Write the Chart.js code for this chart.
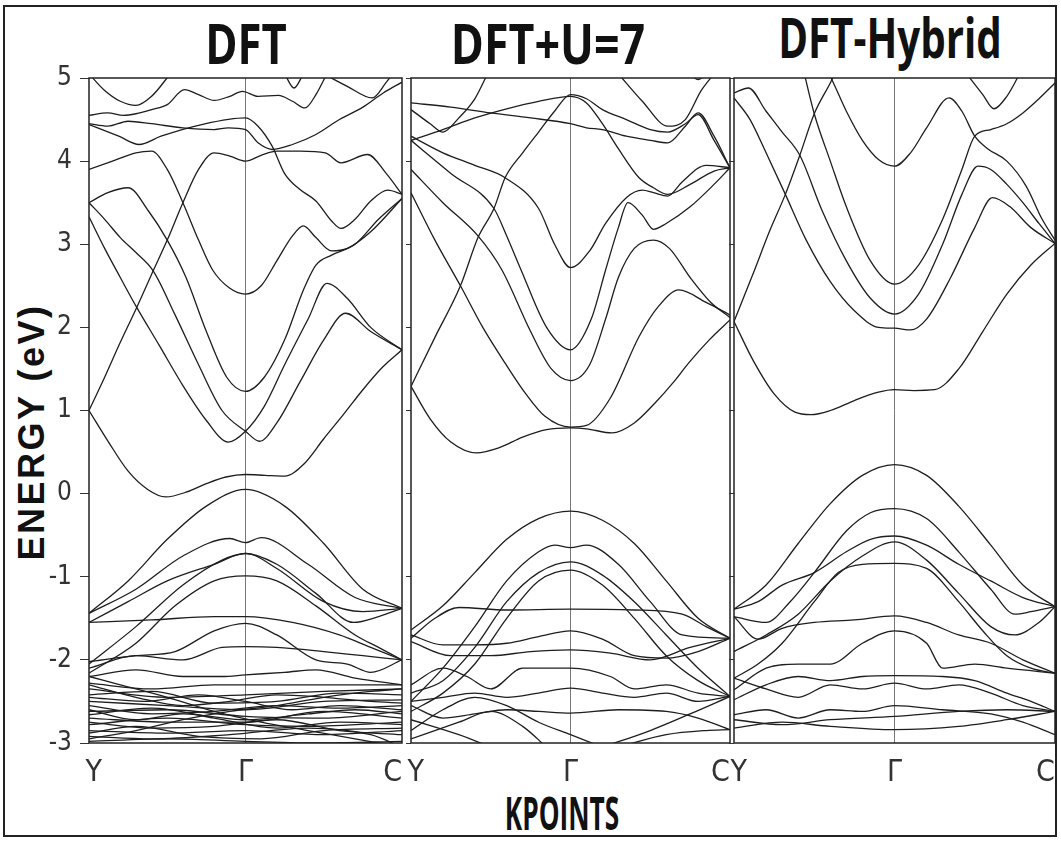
<!DOCTYPE html>
<html>
<head>
<meta charset="utf-8">
<script src="https://cdn.jsdelivr.net/npm/chart.js@4.4.1/dist/chart.umd.min.js"></script>
<style>
    body { margin: 0; background: #fff; width: 1061px; height: 841px; position: relative; overflow: hidden; }
    #frame { position: absolute; left: 3px; top: 5px; width: 1050px; height: 828px; border: 2px solid #222; }
    canvas { position: absolute; }
    .title { position: absolute; font-family: "Open Sans", sans-serif; font-weight: 700; color: #111; white-space: nowrap; line-height: 1; }
</style>
</head>
<body>
<div id="frame"></div>
<div class="title" style="left:246px;top:14px;font-size:56px;transform:translateX(-50%) scaleX(0.78);">DFT</div>
<div class="title" style="left:548px;top:14px;font-size:56px;transform:translateX(-50%) scaleX(0.8);">DFT+U=7</div>
<div class="title" style="left:890px;top:8px;font-size:56px;transform:translateX(-50%) scaleX(0.72);">DFT-Hybrid</div>
<div class="title" style="left:562px;top:789px;font-size:46px;transform:translateX(-50%) scaleX(0.57);">KPOINTS</div>
<div class="title" style="left:32px;top:432px;font-family:'Liberation Sans',sans-serif;font-size:36px;letter-spacing:2.5px;transform:translate(-50%,-50%) rotate(-90deg);">ENERGY (eV)</div>
<canvas id="p1" width="370" height="743" style="left:40px;top:50px;"></canvas>
<canvas id="p2" width="330" height="743" style="left:405px;top:50px;"></canvas>
<canvas id="p3" width="333" height="743" style="left:728px;top:50px;"></canvas>
<script>
// Axis settings
const energyMin = -3;
const energyMax = 5;
const kTickPos = [0.03, 1, 1.94];
const kTickLabels = ['Y', 'Γ', 'C'];

// DFT bands: [k, energy]
const dftCond = [
    [[0,1.0],[0.125,0.62],[0.25,0.27],[0.375,0.05],[0.49,-0.04],[0.625,0.02],[0.75,0.12],[0.875,0.2],[1,0.23],[1.125,0.22],[1.25,0.21],[1.375,0.36],[1.5,0.66],[1.625,0.95],[1.75,1.25],[1.875,1.52],[2,1.73]],
    [[0,1.0],[0.1,1.4],[0.2,1.82],[0.305,2.24],[0.41,2.68],[0.5,3.05],[0.6,3.5],[0.7,3.9],[0.8,4.1],[0.9,4.06],[1,4.0],[1.1,4.07],[1.2,4.12],[1.35,4.12],[1.51,4.1],[1.61,3.98],[1.78,4.08],[1.9,3.85],[2,3.6]],
    [[0,3.33],[0.1,2.95],[0.2,2.6],[0.305,2.24],[0.45,1.78],[0.6,1.3],[0.75,0.88],[0.89,0.62],[1,0.75],[1.12,1.05],[1.25,1.55],[1.4,2.1],[1.52,2.53],[1.65,2.35],[1.8,2.0],[2,1.73]],
    [[0,3.5],[0.1,3.3],[0.2,3.08],[0.3,2.9],[0.41,2.68],[0.55,2.15],[0.7,1.55],[0.85,1.0],[1,0.75],[1.09,0.63],[1.2,0.85],[1.35,1.35],[1.5,1.85],[1.64,2.17],[1.8,1.95],[2,1.73]],
    [[0,3.5],[0.12,3.62],[0.25,3.68],[0.38,3.4],[0.5,3.05],[0.62,2.6],[0.75,1.95],[0.88,1.4],[1,1.23],[1.12,1.4],[1.25,1.85],[1.37,2.45],[1.45,2.75],[1.55,2.87],[1.7,3.0],[1.85,3.3],[2,3.55]],
    [[0,3.9],[0.15,4.0],[0.3,4.1],[0.4,4.12],[0.5,3.9],[0.6,3.5],[0.7,3.05],[0.79,2.69],[0.9,2.47],[1,2.4],[1.1,2.5],[1.2,2.8],[1.3,3.1],[1.37,3.22],[1.45,3.08],[1.55,2.92],[1.65,2.95],[1.8,3.15],[2,3.55]],
    [[0,4.44],[0.19,4.3],[0.32,4.2],[0.46,4.3],[0.72,4.44],[1,4.52],[1.08,4.42],[1.17,4.18],[1.25,3.85],[1.34,3.67],[1.45,3.52],[1.55,3.28],[1.61,3.19],[1.7,3.3],[1.8,3.52],[1.91,3.65],[2,3.6]],
    [[0,4.45],[0.12,4.42],[0.25,4.48],[0.4,4.45],[0.6,4.4],[0.8,4.38],[0.89,4.4],[1,4.38],[1.08,4.22],[1.17,4.14],[1.3,4.2],[1.45,4.32],[1.6,4.5],[1.75,4.65],[1.88,4.82],[2,4.95]],
    [[0,4.55],[0.12,4.58],[0.22,4.55],[0.3,4.57],[0.4,4.62],[0.5,4.68],[0.61,4.86],[0.7,4.8],[0.8,4.73],[0.9,4.78],[0.98,4.84],[1.08,4.78],[1.21,4.79],[1.3,4.72],[1.38,4.64],[1.45,4.8],[1.52,5.05]],
    [[0,5.05],[0.1,4.85],[0.2,4.72],[0.3,4.67],[0.4,4.78],[0.52,5.05]],
    [[1.25,5.05],[1.31,4.88],[1.37,5.05]],
    [[1.5,5.05],[1.65,4.9],[1.81,4.76],[1.9,4.95],[1.96,5.1]]
];
const dftVal = [
    [[0,-1.44],[0.25,-1.05],[0.5,-0.55],[0.75,-0.15],[1,0.05],[1.25,-0.15],[1.5,-0.6],[1.75,-1.15],[2,-1.38]],
    [[0,-1.44],[0.3,-1.15],[0.6,-0.75],[0.9,-0.54],[1,-0.59],[1.1,-0.53],[1.4,-0.85],[1.7,-1.25],[2,-1.38]],
    [[0,-2.05],[0.3,-1.6],[0.6,-1.1],[0.85,-0.8],[1,-0.72],[1.2,-0.85],[1.45,-1.2],[1.69,-1.55],[1.85,-1.48],[2,-1.38]],
    [[0,-1.55],[0.25,-1.3],[0.5,-1.05],[0.8,-0.85],[1,-0.72],[1.2,-0.9],[1.5,-1.3],[1.75,-1.42],[2,-1.38]],
    [[0,-2.16],[0.3,-1.8],[0.55,-1.35],[0.8,-1.05],[1,-0.99],[1.2,-1.05],[1.45,-1.35],[1.7,-1.7],[1.85,-1.85],[2,-2.0]],
    [[0,-1.55],[0.4,-1.52],[0.8,-1.48],[1,-1.48],[1.3,-1.55],[1.6,-1.7],[1.8,-1.85],[2,-2.0]],
    [[0,-2.02],[0.3,-1.95],[0.55,-1.9],[0.8,-1.65],[1,-1.56],[1.2,-1.7],[1.45,-2.0],[1.65,-2.05],[1.8,-2.15],[2,-2.0]],
    [[0,-2.1],[0.3,-1.95],[0.6,-2.0],[0.85,-1.85],[1,-1.84],[1.2,-1.85],[1.5,-1.9],[1.75,-1.95],[2,-2.0]],
    [[0,-2.2],[0.3,-2.12],[0.6,-2.2],[0.85,-2.2],[1,-2.18],[1.25,-2.15],[1.45,-2.12],[1.7,-2.22],[2,-2.3]],
    [[0,-2.28],[0.4,-2.35],[0.8,-2.3],[1,-2.3],[1.4,-2.3],[1.7,-2.3],[2,-2.3]],
    [[0,-2.35],[0.5,-2.45],[1,-2.42],[1.5,-2.38],[2,-2.35]],
    [[0,-2.42],[0.4,-2.38],[0.8,-2.52],[1.2,-2.5],[1.6,-2.4],[2,-2.42]],
    [[0,-2.5],[0.5,-2.55],[1,-2.6],[1.5,-2.5],[2,-2.48]],
    [[0,-2.55],[0.4,-2.65],[0.8,-2.62],[1.2,-2.55],[1.6,-2.58],[2,-2.55]],
    [[0,-2.62],[0.5,-2.6],[1,-2.68],[1.5,-2.7],[2,-2.62]],
    [[0,-2.7],[0.5,-2.75],[1,-2.75],[1.5,-2.62],[2,-2.7]],
    [[0,-2.78],[0.5,-2.7],[1,-2.78],[1.4,-2.8],[2,-2.75]],
    [[0,-2.85],[0.5,-2.88],[1,-2.85],[1.5,-2.9],[2,-2.85]],
    [[0,-2.92],[0.4,-2.95],[0.9,-2.9],[1.4,-2.82],[1.8,-2.9],[2,-3.05]],
    [[0,-2.98],[0.5,-2.95],[1,-2.98],[1.5,-3.0],[2,-2.98]],
    [[0,-2.3],[0.3,-2.45],[0.6,-2.55],[0.9,-2.5],[1.2,-2.42],[1.5,-2.45],[1.8,-2.5],[2,-2.52]],
    [[0,-2.45],[0.35,-2.5],[0.7,-2.42],[1,-2.5],[1.3,-2.6],[1.6,-2.55],[2,-2.6]],
    [[0,-2.6],[0.3,-2.72],[0.6,-2.65],[1,-2.72],[1.4,-2.65],[1.7,-2.6],[2,-2.65]],
    [[0,-2.66],[0.4,-2.58],[0.8,-2.7],[1.2,-2.82],[1.6,-2.75],[2,-2.78]],
    [[0,-2.75],[0.4,-2.82],[0.8,-2.8],[1.2,-2.72],[1.6,-2.85],[2,-2.9]],
    [[0,-2.88],[0.3,-2.8],[0.7,-2.92],[1.1,-2.95],[1.5,-2.85],[2,-2.82]],
    [[0,-2.2],[0.2,-2.3],[0.5,-2.45],[0.8,-2.62],[1.1,-2.75],[1.4,-2.85],[1.7,-2.95],[2,-3.05]],
    [[0,-2.95],[0.3,-2.85],[0.6,-2.72],[0.9,-2.62],[1.2,-2.55],[1.5,-2.45],[1.8,-2.38],[2,-2.35]]
];

// DFT+U=7 bands
const dftuCond = [
    [[0,1.29],[0.12,0.9],[0.25,0.62],[0.41,0.49],[0.55,0.55],[0.7,0.68],[0.85,0.77],[1,0.79],[1.1,0.78],[1.26,0.73],[1.4,0.85],[1.53,1.09],[1.65,1.35],[1.74,1.57],[1.87,1.85],[2,2.09]],
    [[0,1.29],[0.15,1.88],[0.31,2.5],[0.42,3.08],[0.52,3.43],[0.59,3.8],[0.7,4.1],[0.8,4.35],[0.9,4.6],[1,4.8],[1.1,4.75],[1.2,4.62],[1.35,4.5],[1.5,4.38],[1.61,4.35],[1.72,4.45],[1.8,4.56],[1.9,4.25],[2,3.92]],
    [[0,3.62],[0.15,3.05],[0.31,2.5],[0.45,2.0],[0.59,1.57],[0.72,1.2],[0.84,0.93],[1,0.8],[1.1,0.82],[1.25,1.15],[1.43,1.89],[1.55,2.25],[1.68,2.45],[1.85,2.3],[2,2.15]],
    [[0,3.9],[0.2,3.5],[0.42,3.1],[0.57,2.69],[0.75,1.95],[0.88,1.5],[1,1.36],[1.12,1.55],[1.22,2.1],[1.3,2.6],[1.4,2.95],[1.52,3.05],[1.62,2.95],[1.75,2.6],[1.88,2.3],[2,2.12]],
    [[0,4.25],[0.25,3.85],[0.52,3.43],[0.6,3.1],[0.69,2.69],[0.85,2.0],[1,1.73],[1.13,2.1],[1.22,2.69],[1.3,3.2],[1.36,3.5],[1.45,3.35],[1.52,3.18],[1.6,3.25],[1.75,3.45],[1.9,3.72],[2,3.92]],
    [[0,4.3],[0.2,4.1],[0.4,3.95],[0.59,3.8],[0.8,3.43],[0.9,3.0],[1,2.72],[1.12,2.92],[1.22,3.25],[1.35,3.56],[1.45,3.65],[1.52,3.62],[1.61,3.58],[1.7,3.75],[1.85,3.95],[2,3.92]],
    [[0,4.7],[0.25,4.65],[0.5,4.58],[0.75,4.52],[1,4.45],[1.1,4.4],[1.2,4.38],[1.35,4.3],[1.5,4.25],[1.61,4.22],[1.72,4.42],[1.8,4.58],[1.9,4.3],[2,3.92]],
    [[0,4.25],[0.2,4.38],[0.4,4.52],[0.6,4.63],[0.8,4.72],[1,4.78],[1.1,4.7],[1.2,4.45],[1.3,4.15],[1.43,3.8],[1.52,3.68],[1.61,3.6],[1.75,3.72],[1.9,3.88],[2,3.92]],
    [[0,4.62],[0.12,4.45],[0.2,4.35],[0.3,4.52],[0.4,4.75],[0.48,5.05]],
    [[1.3,5.05],[1.45,4.72],[1.61,4.42],[1.72,4.5],[1.82,4.85],[1.9,5.05]],
    [[1.75,5.05],[1.8,4.98],[1.85,5.05]]
];
const dftuVal = [
    [[0,-1.64],[0.2,-1.35],[0.4,-0.95],[0.6,-0.55],[0.8,-0.3],[1,-0.21],[1.2,-0.32],[1.4,-0.6],[1.6,-1.05],[1.8,-1.5],[2,-1.74]],
    [[0,-2.5],[0.2,-2.1],[0.4,-1.6],[0.6,-1.05],[0.8,-0.7],[0.9,-0.62],[1,-0.65],[1.1,-0.62],[1.3,-0.85],[1.5,-1.3],[1.7,-1.7],[2,-1.74]],
    [[0,-2.4],[0.2,-2.25],[0.4,-1.85],[0.6,-1.3],[0.8,-0.95],[1,-0.82],[1.2,-0.98],[1.4,-1.3],[1.6,-1.7],[1.8,-2.1],[2,-2.44]],
    [[0,-2.62],[0.2,-2.4],[0.4,-2.05],[0.6,-1.5],[0.8,-1.05],[1,-0.92],[1.2,-1.1],[1.4,-1.5],[1.6,-1.95],[1.8,-2.25],[2,-2.44]],
    [[0,-1.74],[0.15,-1.5],[0.3,-1.37],[0.6,-1.4],[1,-1.39],[1.4,-1.4],[1.7,-1.45],[1.85,-1.6],[2,-1.74]],
    [[0,-1.7],[0.2,-1.82],[0.4,-1.82],[0.6,-1.8],[0.8,-1.72],[1,-1.65],[1.2,-1.75],[1.4,-1.95],[1.6,-1.98],[1.8,-1.9],[2,-1.74]],
    [[0,-1.78],[0.25,-1.95],[0.5,-1.95],[0.75,-1.9],[1,-1.88],[1.25,-1.92],[1.5,-2.0],[1.75,-1.85],[2,-1.74]],
    [[0,-2.3],[0.2,-2.1],[0.35,-2.2],[0.5,-2.35],[0.7,-2.1],[1,-2.1],[1.25,-2.2],[1.4,-2.35],[1.6,-2.3],[1.8,-2.4],[2,-2.44]],
    [[0,-2.5],[0.2,-2.45],[0.4,-2.4],[0.6,-2.45],[0.8,-2.4],[1,-2.34],[1.2,-2.4],[1.4,-2.45],[1.6,-2.4],[1.8,-2.5],[2,-2.44]],
    [[0,-2.55],[0.2,-2.7],[0.4,-2.65],[0.6,-2.6],[0.8,-2.62],[1,-2.64],[1.3,-2.6],[1.6,-2.62],[1.8,-2.7],[2,-2.84]],
    [[0,-2.72],[0.3,-2.9],[0.5,-3.05]],
    [[1.3,-3.05],[1.6,-2.9],[1.85,-2.85],[2,-2.84]],
    [[0,-2.85],[0.2,-2.6],[0.4,-2.45],[0.6,-2.55],[0.8,-2.75],[1,-2.9],[1.2,-3.05]],
    [[1.2,-3.05],[1.5,-2.85],[1.75,-2.65],[2,-2.44]],
    [[0,-2.95],[0.3,-2.75],[0.5,-2.62],[0.7,-2.8],[0.85,-3.05]]
];

// DFT-Hybrid bands
const hybridCond = [
    [[0,2.07],[0.12,1.6],[0.25,1.2],[0.38,0.98],[0.48,0.95],[0.6,1.0],[0.75,1.12],[0.9,1.22],[1,1.25],[1.12,1.24],[1.25,1.25],[1.4,1.5],[1.55,1.95],[1.7,2.4],[1.85,2.75],[2,3.01]],
    [[0,2.07],[0.12,2.65],[0.22,3.15],[0.32,3.6],[0.41,4.07],[0.5,4.57],[0.61,4.98],[0.66,5.2]],
    [[0,4.76],[0.1,4.5],[0.2,4.1],[0.32,3.6],[0.45,3.05],[0.6,2.55],[0.75,2.2],[0.9,2.0],[1,1.99],[1.1,1.97],[1.2,2.1],[1.35,2.6],[1.5,3.2],[1.61,3.56],[1.72,3.45],[1.85,3.2],[2,3.01]],
    [[0,4.82],[0.09,4.88],[0.2,4.6],[0.3,4.35],[0.41,4.07],[0.55,3.4],[0.7,2.8],[0.85,2.35],[1,2.16],[1.15,2.4],[1.3,3.0],[1.42,3.6],[1.52,3.94],[1.6,3.9],[1.7,3.72],[1.8,3.5],[1.9,3.25],[2,3.01]],
    [[0.42,5.2],[0.5,4.57],[0.6,4.0],[0.7,3.45],[0.85,2.8],[1,2.52],[1.15,2.75],[1.3,3.3],[1.42,3.9],[1.5,4.3],[1.6,4.38],[1.7,4.45],[1.8,4.58],[1.9,4.75],[2,4.94]],
    [[0.55,5.2],[0.61,4.98],[0.7,4.6],[0.8,4.25],[0.9,4.02],[1,3.94],[1.1,4.1],[1.2,4.4],[1.34,4.76],[1.42,4.6],[1.5,4.3],[1.58,4.15],[1.7,4.0],[1.82,3.7],[1.92,3.3],[2,3.05]],
    [[1.45,5.05],[1.55,4.8],[1.62,4.63],[1.7,4.78],[1.78,5.05]]
];
const hybridVal = [
    [[0,-1.39],[0.2,-1.1],[0.4,-0.6],[0.6,-0.12],[0.8,0.22],[1,0.35],[1.2,0.22],[1.4,-0.15],[1.6,-0.62],[1.8,-1.1],[2,-1.36]],
    [[0,-1.48],[0.2,-1.55],[0.35,-1.3],[0.5,-0.95],[0.7,-0.45],[0.85,-0.23],[1,-0.18],[1.2,-0.3],[1.4,-0.7],[1.6,-1.15],[1.75,-1.45],[1.85,-1.42],[2,-1.36]],
    [[0,-1.39],[0.15,-1.3],[0.3,-1.1],[0.5,-0.95],[0.7,-0.7],[0.85,-0.55],[1,-0.51],[1.2,-0.62],[1.4,-0.85],[1.6,-1.05],[1.8,-1.25],[2,-1.36]],
    [[0,-1.9],[0.2,-1.7],[0.4,-1.45],[0.6,-1.05],[0.8,-0.75],[1,-0.58],[1.2,-0.8],[1.4,-1.2],[1.6,-1.6],[1.75,-1.7],[1.9,-1.55],[2,-1.36]],
    [[0,-2.22],[0.15,-2.05],[0.3,-1.8],[0.5,-1.3],[0.65,-0.95],[0.8,-0.85],[1,-0.84],[1.2,-0.9],[1.4,-1.3],[1.55,-1.65],[1.7,-1.95],[1.85,-2.1],[2,-2.16]],
    [[0,-1.48],[0.15,-1.75],[0.3,-1.62],[0.5,-1.55],[0.75,-1.52],[1,-1.47],[1.2,-1.55],[1.4,-1.7],[1.6,-1.8],[1.8,-2.0],[2,-2.16]],
    [[0,-2.36],[0.2,-2.1],[0.4,-2.05],[0.6,-2.05],[0.8,-1.8],[1,-1.65],[1.2,-1.8],[1.3,-2.1],[1.5,-2.05],[1.7,-2.1],[2,-2.16]],
    [[0,-2.48],[0.2,-2.3],[0.4,-2.2],[0.6,-2.25],[0.8,-2.2],[1,-2.19],[1.3,-2.2],[1.5,-2.25],[1.7,-2.4],[1.85,-2.5],[2,-2.62]],
    [[0,-2.22],[0.2,-2.35],[0.4,-2.45],[0.6,-2.3],[0.8,-2.35],[1,-2.28],[1.2,-2.35],[1.4,-2.3],[1.6,-2.4],[1.8,-2.55],[2,-2.62]],
    [[0,-2.66],[0.2,-2.6],[0.4,-2.7],[0.6,-2.6],[0.8,-2.62],[1,-2.55],[1.3,-2.6],[1.6,-2.65],[1.8,-2.75],[2,-2.9]],
    [[0,-2.82],[0.3,-2.75],[0.6,-2.8],[1,-2.84],[1.4,-2.8],[1.7,-2.72],[2,-2.62]],
    [[0,-2.72],[0.3,-2.78],[0.6,-2.72],[1,-2.68],[1.4,-2.62],[1.7,-2.6],[2,-2.62]]
];

const tickFont = '"Liberation Sans Narrow", "DejaVu Sans Condensed", "Open Sans", sans-serif';

// Draws the box round each panel
const framePlugin = {
    id: 'frame',
    afterDatasetsDraw(chart) {
        const a = chart.chartArea;
        const ctx = chart.ctx;
        ctx.save();
        ctx.strokeStyle = '#222';
        ctx.lineWidth = 1.5;
        ctx.strokeRect(a.left, a.top, a.right - a.left, a.bottom - a.top);
        ctx.restore();
    }
};

function makePanel(id, bands, showLabels, padLeft, padRight) {
    const datasets = bands.map(b => ({
        data: b.map(p => ({ x: p[0], y: p[1] })),
        borderColor: '#1e1e1e',
        borderWidth: 1.3,
        pointRadius: 0,
        fill: false,
        cubicInterpolationMode: 'monotone'
    }));

    new Chart(document.getElementById(id).getContext('2d'), {
        type: 'line',
        data: { datasets },
        options: {
            responsive: false,
            animation: false,
            devicePixelRatio: 1,
            layout: { padding: { top: 28, left: padLeft, right: padRight, bottom: 0 } },
            plugins: { legend: { display: false }, tooltip: { enabled: false } },
            scales: {
                x: {
                    type: 'linear',
                    min: 0,
                    max: 2,
                    afterBuildTicks: s => { s.ticks = kTickPos.map(v => ({ value: v })); },
                    afterFit: s => { s.height = 50; s.paddingLeft = 0; s.paddingRight = 0; },
                    border: { display: false },
                    grid: {
                        drawTicks: false,
                        lineWidth: 1,
                        color: c => c.index === 1 ? '#777' : 'rgba(0,0,0,0)'
                    },
                    ticks: {
                        autoSkip: false,
                        maxRotation: 0,
                        padding: 12,
                        color: '#333',
                        font: { family: tickFont, size: 30 },
                        callback: (v, i) => kTickLabels[i]
                    }
                },
                y: {
                    min: energyMin,
                    max: energyMax,
                    afterFit: s => { s.width = showLabels ? 49 : 5; s.paddingTop = 0; s.paddingBottom = 0; },
                    border: { display: false },
                    grid: { drawOnChartArea: false, tickLength: showLabels ? 9 : 5, color: '#333' },
                    ticks: {
                        display: showLabels,
                        stepSize: 1,
                        padding: 8,
                        color: '#333',
                        font: { family: tickFont, size: 26 }
                    }
                }
            }
        },
        plugins: [framePlugin]
    });
}

makePanel('p1', dftCond.concat(dftVal), true, 0, 8);
makePanel('p2', dftuCond.concat(dftuVal), false, 1, 5);
makePanel('p3', hybridCond.concat(hybridVal), false, 1, 6);
</script>
</body>
</html>
